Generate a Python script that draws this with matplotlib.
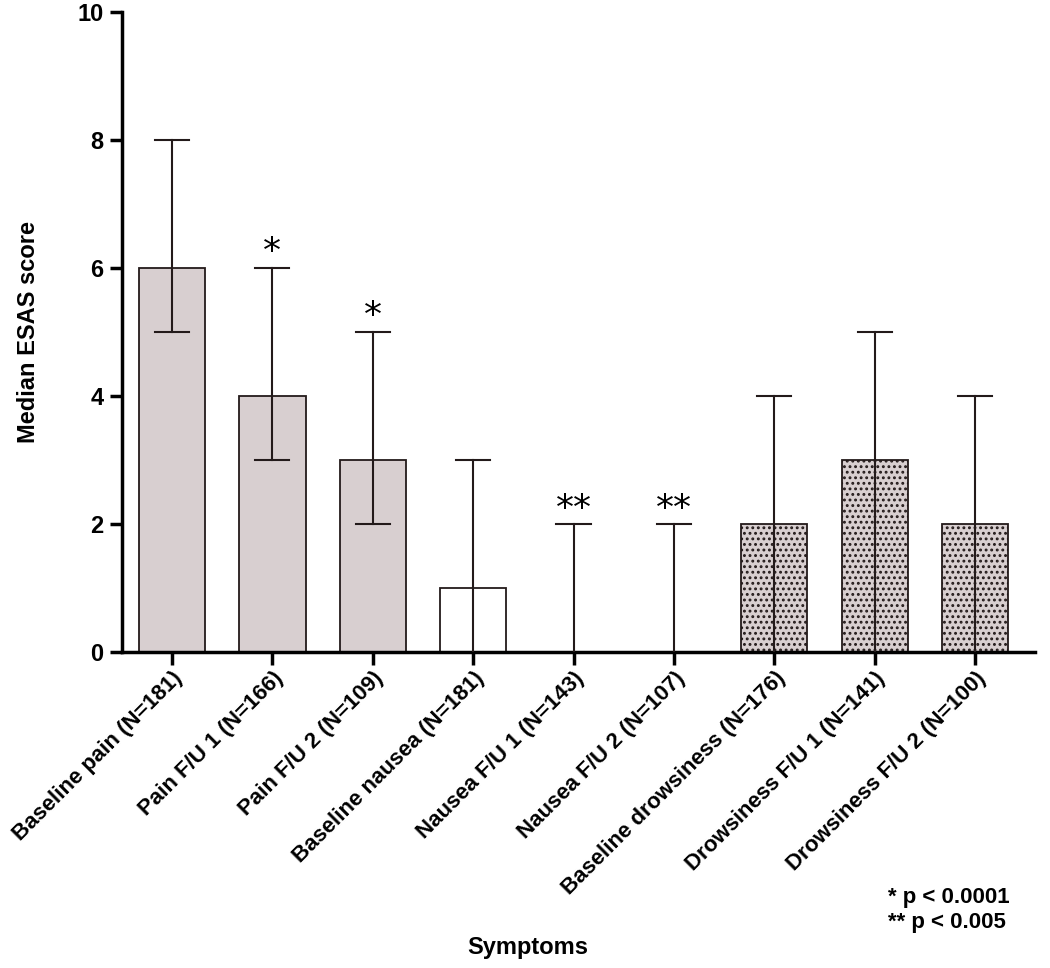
import matplotlib.pyplot as plt
import numpy as np

plt.rcParams['font.family'] = ['Liberation Sans', 'DejaVu Sans']
plt.rcParams['hatch.linewidth'] = 1.3

labels = ['Baseline pain (N=181)', 'Pain F/U 1 (N=166)', 'Pain F/U 2 (N=109)',
          'Baseline nausea (N=181)', 'Nausea F/U 1 (N=143)', 'Nausea F/U 2 (N=107)',
          'Baseline drowsiness (N=176)', 'Drowsiness F/U 1 (N=141)', 'Drowsiness F/U 2 (N=100)']
medians = [6, 4, 3, 1, 0, 0, 2, 3, 2]
q1 = [5, 3, 2, 0, 0, 0, 0, 0, 0]
q3 = [8, 6, 5, 3, 2, 2, 4, 5, 4]
stars = ['', '*', '*', '', '**', '**', '', '', '']
groups = ['pain'] * 3 + ['nausea'] * 3 + ['drowsiness'] * 3

fill = {'pain': '#d8cfd0', 'nausea': 'white', 'drowsiness': '#d8cfd0'}
hatch = {'pain': None, 'nausea': None, 'drowsiness': '...'}

fig = plt.figure(figsize=(10.5, 9.68), dpi=100)
ax = fig.add_axes([0.116, 0.326, 0.87, 0.662])

x = np.arange(len(labels))
lc = '#231a1a'
cap = 0.17
for i in x:
    g = groups[i]
    ax.bar(i, medians[i], width=0.66, color=fill[g], edgecolor=lc,
           linewidth=1.3, hatch=hatch[g], zorder=2)
    # error bar drawn through the bar, from q1 to q3
    ax.plot([i, i], [q1[i], q3[i]], color=lc, lw=1.5, zorder=3)
    ax.plot([i - cap, i + cap], [q3[i], q3[i]], color=lc, lw=1.5, zorder=3)
    if q1[i] > 0:
        ax.plot([i - cap, i + cap], [q1[i], q1[i]], color=lc, lw=1.5, zorder=3)
    if stars[i]:
        ax.text(i, q3[i] - 0.02, stars[i], ha='center', va='bottom',
                fontsize=26, fontweight='normal', family='DejaVu Sans')

ax.set_xlim(-0.5, 8.6)
ax.set_ylim(0, 10)
ax.set_yticks([0, 2, 4, 6, 8, 10])
ax.set_xticks(x)
ax.set_xticklabels(labels, rotation=45, ha='right', rotation_mode='anchor',
                   fontsize=16, fontweight='bold')
for t in ax.get_yticklabels():
    t.set_fontsize(17)
    t.set_fontweight('bold')

for s in ['top', 'right']:
    ax.spines[s].set_visible(False)
for s in ['left', 'bottom']:
    ax.spines[s].set_linewidth(2.5)
    ax.spines[s].set_color('black')
ax.tick_params(axis='both', length=9, width=2.5, pad=4)
ax.tick_params(axis='x', pad=2)

ax.set_ylabel('Median ESAS score', fontsize=17, fontweight='bold', labelpad=27)
fig.text(0.503, 0.021, 'Symptoms', ha='center', va='center', fontsize=17, fontweight='bold')
fig.text(0.846, 0.06, '* p < 0.0001\n** p < 0.005', ha='left', va='center',
         fontsize=16, fontweight='bold', linespacing=1.2)

fig.savefig('out.png', dpi=100)
